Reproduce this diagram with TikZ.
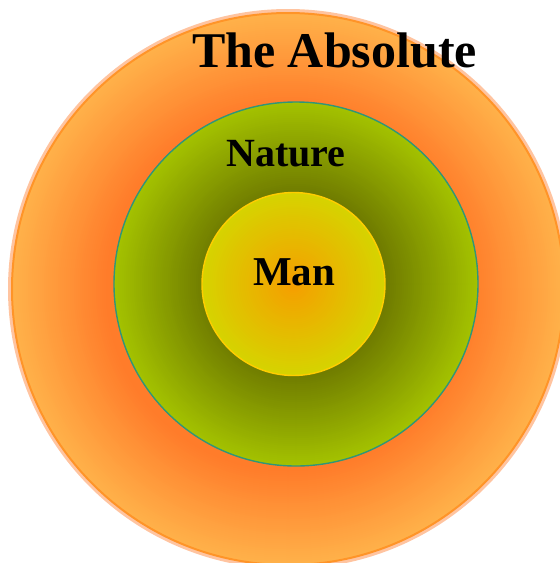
\documentclass[tikz,border=0pt]{standalone}
\usepackage{fontspec}
\setmainfont{Liberation Serif}

\definecolor{absLight}{RGB}{255,178,74}
\definecolor{absDark}{RGB}{255,124,42}
\definecolor{absEdge}{RGB}{255,148,40}
\definecolor{absHalo}{RGB}{255,196,160}
\definecolor{natLight}{RGB}{164,194,0}
\definecolor{natDark}{RGB}{112,124,0}
\definecolor{natEdge}{RGB}{48,150,120}
\definecolor{manLight}{RGB}{214,212,0}
\definecolor{manDark}{RGB}{246,158,0}
\definecolor{manEdge}{RGB}{255,204,0}

\tikzset{
  ringlabel/.style={text=black, anchor=base, inner sep=0pt}
}

\begin{document}
\begin{tikzpicture}[x=0.5pt, y=-0.5pt]
    \useasboundingbox (0,0) rectangle (560,563);

    %outer circle
    \draw[absHalo, line width=2pt] (288,289) circle (278);
    \foreach \i in {0,...,47}{
      \pgfmathsetmacro\rr{276-\i*94/47}
      \pgfmathtruncatemacro\mx{100-\i*100/47}
      \fill[absLight!\mx!absDark] (288,289) circle (\rr);
    }
    \draw[absEdge, line width=1pt] (288,289) circle (276);

    %middle circle
    \foreach \i in {0,...,45}{
      \pgfmathsetmacro\rr{182-\i*90/45}
      \pgfmathtruncatemacro\mx{100-\i*100/45}
      \fill[natLight!\mx!natDark] (296,284) circle (\rr);
    }
    \draw[natEdge, line width=0.7pt] (296,284) circle (182);

    %inner circle
    \foreach \i in {0,...,45}{
      \pgfmathsetmacro\rr{91.5-\i*91/45}
      \pgfmathtruncatemacro\mx{100-\i*100/45}
      \fill[manLight!\mx!manDark] (293.5,284) circle (\rr);
    }
    \draw[manEdge, line width=0.7pt] (293.5,284) circle (91.5);

    %labels
    \node[ringlabel, font=\fontsize{25}{30}\selectfont\bfseries] (absolute) at (334.5,67) {The Absolute};
    \node[ringlabel, font=\fontsize{20}{24}\selectfont\bfseries] (nature) at (286,166) {Nature};
    \node[ringlabel, font=\fontsize{20.5}{24}\selectfont\bfseries] (man) at (294,285) {Man};

\end{tikzpicture}
\end{document}
